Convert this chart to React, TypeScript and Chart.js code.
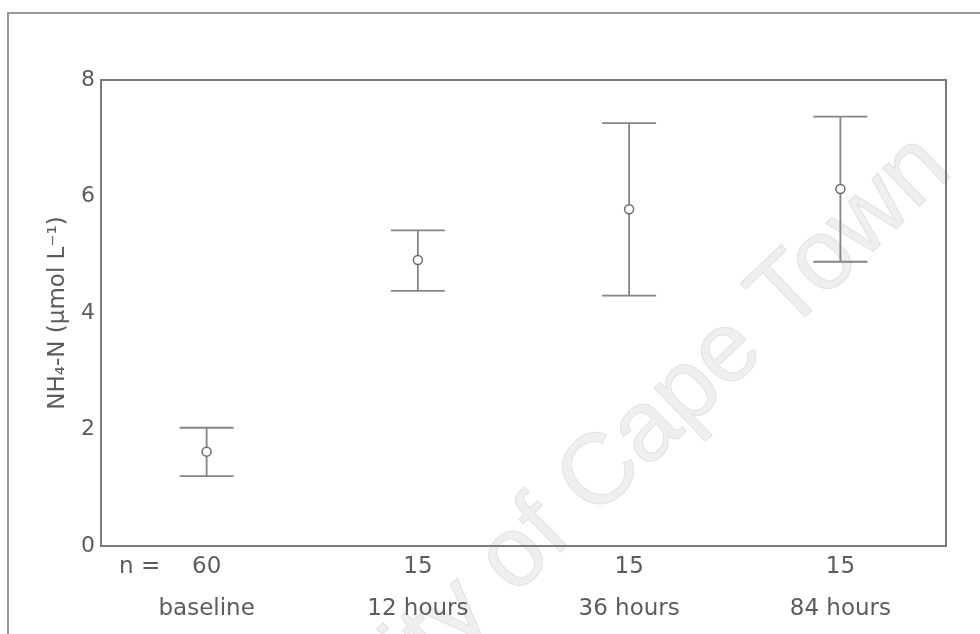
import React, { useEffect, useRef } from "react";
import { Chart, registerables } from "chart.js";

Chart.register(...registerables);

// Sampling times and group sizes
const categories = ["baseline", "12 hours", "36 hours", "84 hours"];
const sampleSizes = ["60", "15", "15", "15"];

// NH4-N concentration (µmol L-1): mean with lower / upper error limits
const meanValues = [1.62, 4.91, 5.78, 6.13];
const lowerValues = [1.2, 4.38, 4.3, 4.88];
const upperValues = [2.03, 5.42, 7.26, 7.37];

const yTicks = [0, 2, 4, 6, 8];

const FONT = "'DejaVu Sans', 'Liberation Sans', sans-serif";
const TEXT = "#5c5c5c";
const LINE = "#7a7a7a";

const decorPlugin = {
  id: "decor",
  beforeDraw(chart: any) {
    const { ctx, width, height } = chart;
    ctx.save();
    ctx.fillStyle = "#ffffff";
    ctx.fillRect(0, 0, width, height);

    // page frame
    ctx.strokeStyle = "#9a9a9a";
    ctx.lineWidth = 2;
    ctx.beginPath();
    ctx.moveTo(8, height);
    ctx.lineTo(8, 13);
    ctx.lineTo(width, 13);
    ctx.stroke();

    // watermark
    ctx.translate(525, 548);
    ctx.rotate(-Math.PI / 4.1);
    ctx.fillStyle = "#efefef";
    ctx.strokeStyle = "#e2e2e2";
    ctx.lineWidth = 1;
    ctx.font = `100px 'Liberation Sans', Arial, sans-serif`;
    ctx.textAlign = "left";
    ctx.textBaseline = "middle";
    const pre = "University ";
    const preW = ctx.measureText(pre).width;
    const ofW = ctx.measureText("of").width;
    const wm = "University of Cape Town";
    ctx.fillText(wm, -preW - ofW / 2, 0);
    ctx.strokeText(wm, -preW - ofW / 2, 0);
    ctx.restore();
  },
  beforeDatasetsDraw(chart: any) {
    const { ctx, chartArea, scales } = chart;
    const x = scales.x;
    const y = scales.y;
    ctx.save();
    // plot box
    ctx.strokeStyle = LINE;
    ctx.lineWidth = 2;
    ctx.strokeRect(chartArea.left, chartArea.top, chartArea.right - chartArea.left, chartArea.bottom - chartArea.top);

    // error bars
    ctx.strokeStyle = "#858585";
    ctx.lineWidth = 1.8;
    const half = 27;
    categories.forEach((_, i) => {
      const px = x.getPixelForValue(i);
      const top = y.getPixelForValue(upperValues[i]);
      const bot = y.getPixelForValue(lowerValues[i]);
      ctx.beginPath();
      ctx.moveTo(px, top);
      ctx.lineTo(px, bot);
      ctx.moveTo(px - half, top);
      ctx.lineTo(px + half, top);
      ctx.moveTo(px - half, bot);
      ctx.lineTo(px + half, bot);
      ctx.stroke();
    });
    ctx.restore();
  },
  afterDraw(chart: any) {
    const { ctx, chartArea } = chart;
    ctx.save();
    ctx.fillStyle = TEXT;
    ctx.font = `23px ${FONT}`;
    ctx.textAlign = "left";
    ctx.textBaseline = "middle";
    ctx.fillText("n =", chartArea.left + 18, chartArea.bottom + 21);
    ctx.restore();
  },
};

export default function App() {
  const ref = useRef<HTMLCanvasElement | null>(null);

  useEffect(() => {
    if (!ref.current) return;
    const chart = new Chart(ref.current, {
      type: "line",
      data: {
        labels: categories,
        datasets: [
          {
            data: meanValues,
            showLine: false,
            pointStyle: "circle",
            pointRadius: 4.5,
            pointBorderWidth: 1.5,
            pointBorderColor: "#6a6a6a",
            pointBackgroundColor: "#ffffff",
          },
        ],
      },
      options: {
        responsive: false,
        animation: false,
        events: [],
        layout: { padding: { top: 80, right: 34, left: 0, bottom: 0 } },
        plugins: {
          legend: { display: false },
          tooltip: { enabled: false },
        },
        scales: {
          x: {
            type: "category",
            offset: true,
            grid: { display: false, drawTicks: false },
            border: { display: false },
            ticks: {
              color: TEXT,
              padding: 0,
              maxRotation: 0,
              font: { family: FONT, size: 23, lineHeight: "42px" } as any,
              callback: (_v: any, i: number) => [sampleSizes[i], categories[i]],
            },
            afterFit: (s: any) => {
              s.height = 88;
            },
          },
          y: {
            min: 0,
            max: 8,
            grid: { display: false, drawTicks: false },
            border: { display: false },
            afterBuildTicks: (s: any) => {
              s.ticks = yTicks.map((v) => ({ value: v }));
            },
            ticks: {
              color: TEXT,
              padding: 6,
              font: { family: FONT, size: 22 },
            },
            title: {
              display: true,
              text: "NH₄-N (µmol L⁻¹)",
              color: TEXT,
              font: { family: FONT, size: 23 },
              padding: { top: 44, bottom: 0 },
            },
            afterFit: (s: any) => {
              s.width = 101;
            },
          },
        },
      },
      plugins: [decorPlugin],
    });
    return () => chart.destroy();
  }, []);

  return (
    <div style={{ position: "fixed", left: 0, top: 0, width: 980, height: 634, background: "#fff" }}>
      <canvas ref={ref} width={980} height={634} />
    </div>
  );
}
